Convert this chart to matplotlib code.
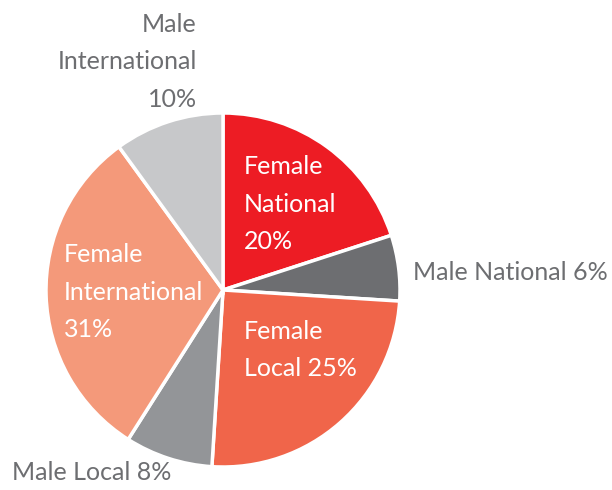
import matplotlib
matplotlib.use('Agg')
import matplotlib.pyplot as plt

labels = ['Female\nNational\n20%', 'Male National 6%', 'Female\nLocal 25%',
          'Male Local 8%', 'Female\nInternational\n31%', 'Male\nInternational\n10%']
values = [20, 6, 25, 8, 31, 10]
colors = ['#ed1c24', '#6d6e71', '#f0654a', '#939598', '#f4997a', '#c7c8ca']
inside = [True, False, True, False, True, False]

# label anchors in image pixels (x, y from top) and alignment
label_pos = [(244, 204, 'left'), (413, 272, 'left'), (244, 350, 'left'),
             (12, 472, 'left'), (64, 292, 'left'), (197, 62, 'right')]

plt.rcParams['font.family'] = ['Lato', 'DejaVu Sans']

W, H = 612, 490
fig = plt.figure(figsize=(W / 100, H / 100), dpi=100)
ax = fig.add_axes([0, 0, 1, 1])

ax.pie(values, colors=colors, startangle=90, counterclock=False,
       center=(223, H - 290), radius=177, frame=True,
       wedgeprops=dict(edgecolor='white', linewidth=2.5))
ax.set_xlim(0, W)
ax.set_ylim(0, H)
ax.set_aspect('equal')
ax.axis('off')

for lab, (x, y, ha), ins in zip(labels, label_pos, inside):
    ax.text(x, H - y, lab, ha=ha, va='center', multialignment=ha,
            fontsize=18, color='white' if ins else '#6d6e71',
            linespacing=1.78)

fig.savefig('out.png', dpi=100)
